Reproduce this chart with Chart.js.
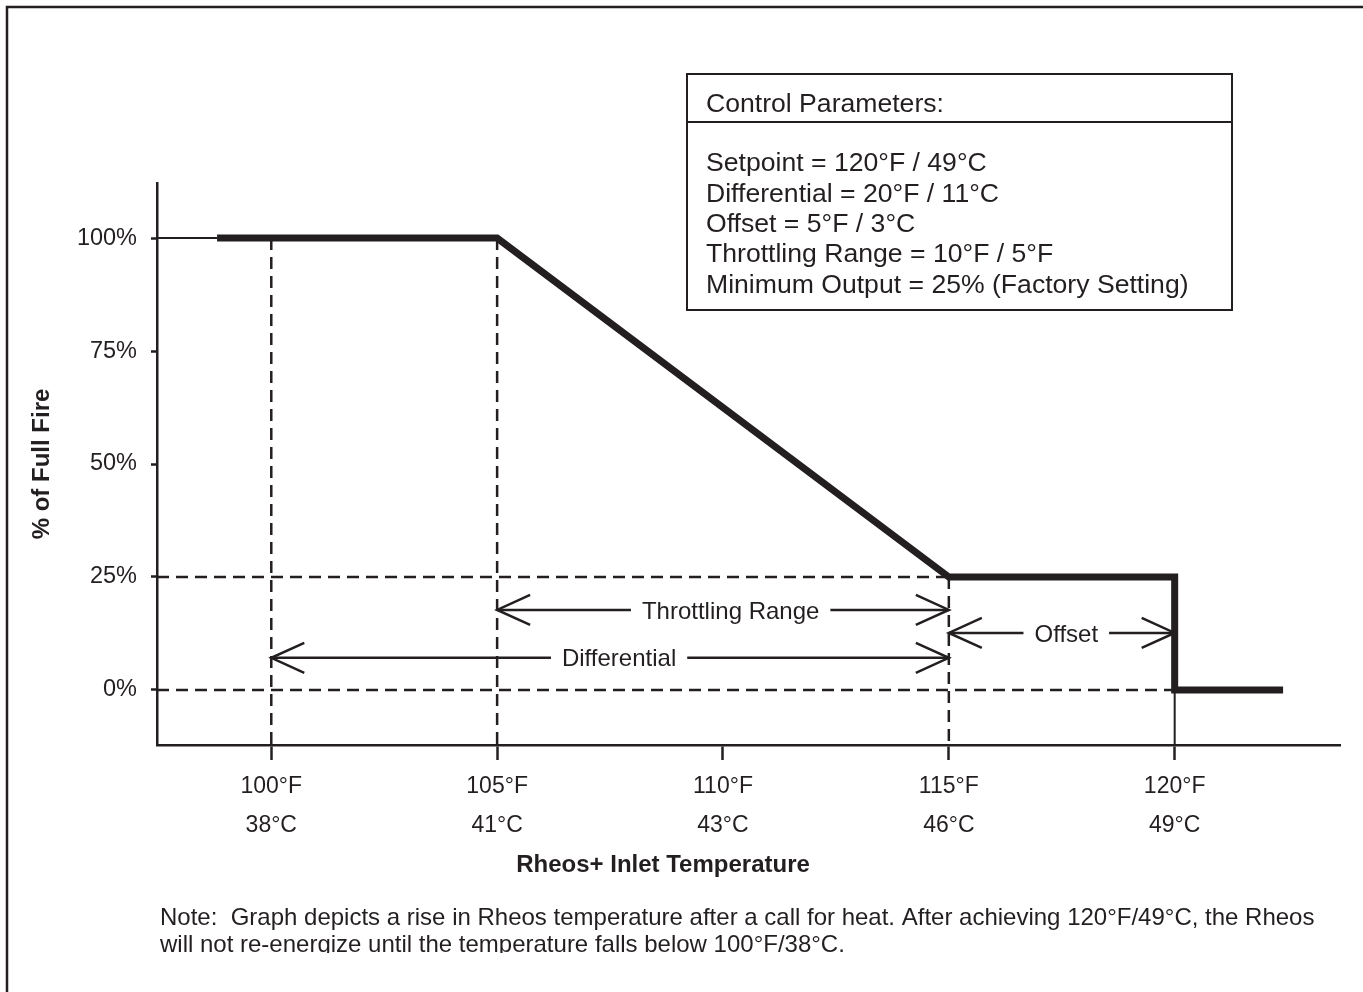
<!DOCTYPE html>
<html>
<head>
<meta charset="utf-8">
<script src="https://cdn.jsdelivr.net/npm/chart.js@4.4.1/dist/chart.umd.min.js"></script>
<style>
  html, body { margin: 0; padding: 0; background: #fff; }
  #wrap { width: 1363px; height: 992px; position: relative; }
</style>
</head>
<body>
<div id="wrap"><canvas id="fireChart" width="1363" height="992"></canvas></div>
<script>
// curve: % of full fire against inlet temperature (°F)
const tempF = [98.8, 105, 115, 120, 120, 122.4];
const firePct = [100, 100, 25, 25, 0, 0];

// axis ticks
const tickF = [100, 105, 110, 115, 120];
const tickFLabels = ['100°F', '105°F', '110°F', '115°F', '120°F'];
const tickCLabels = ['38°C', '41°C', '43°C', '46°C', '49°C'];
const tickPct = [0, 25, 50, 75, 100];

// axis range
const xMin = 97.47, xMax = 123.66;
const yMin = -12.2, yMax = 112.2;

// dashed guides (vertical: x and top value, horizontal: y and right end)
const guideX = [100, 105, 115];
const guideXTop = [100, 100, 25];
const guideY = [25, 0];
const guideYEnd = [115, 120];

// dimension arrows
const spanLabels = ['Throttling Range', 'Differential', 'Offset'];
const spanFrom = [105, 100, 115];
const spanTo = [115, 115, 120];
const spanLevel = [17.7, 7.1, 12.6];
const spanTextAt = [110.17, 107.7, 117.6];  // where the label sits along the arrow

const paramTitle = 'Control Parameters:';
const paramLines = [
    'Setpoint = 120°F / 49°C',
    'Differential = 20°F / 11°C',
    'Offset = 5°F / 3°C',
    'Throttling Range = 10°F / 5°F',
    'Minimum Output = 25% (Factory Setting)'
];
const noteLines = [
    'Note:  Graph depicts a rise in Rheos temperature after a call for heat. After achieving 120°F/49°C, the Rheos',
    'will not re-energize until the temperature falls below 100°F/38°C.'
];

const INK = '#231f20';
const FONT = '"Liberation Sans", Arial, sans-serif';
const DASH = [12, 7];

const datasets = [];
datasets.push({
    data: tempF.map((x, i) => ({ x: x, y: firePct[i] })),
    borderColor: INK, borderWidth: 7, pointRadius: 0,
    borderJoinStyle: 'miter', borderCapStyle: 'butt', order: 0
});
guideX.forEach((x, i) => {
    datasets.push({
        data: [{ x: x, y: guideXTop[i] }, { x: x, y: yMin }],
        borderColor: INK, borderWidth: 2.5, borderDash: DASH, pointRadius: 0, order: 2
    });
});
guideY.forEach((y, i) => {
    datasets.push({
        data: [{ x: xMin, y: y }, { x: guideYEnd[i], y: y }],
        borderColor: INK, borderWidth: 2.5, borderDash: DASH, pointRadius: 0, order: 2
    });
});
// thin solid leaders: 100% from the axis to the curve, 120°F from 0% to the axis
datasets.push({
    data: [{ x: xMin, y: firePct[0] }, { x: tempF[0], y: firePct[0] }],
    borderColor: INK, borderWidth: 2, pointRadius: 0, order: 2
});
datasets.push({
    data: [{ x: tempF[3], y: 0 }, { x: tempF[3], y: yMin }],
    borderColor: INK, borderWidth: 2, pointRadius: 0, order: 2
});

function arrowHead(ctx, x, y, dir) {
    ctx.beginPath();
    ctx.moveTo(x - dir * 33, y - 15);
    ctx.lineTo(x, y);
    ctx.lineTo(x - dir * 33, y + 15);
    ctx.stroke();
}

const extras = {
    id: 'extras',
    afterDraw(chart) {
        const ctx = chart.ctx;
        const xs = chart.scales.x, ys = chart.scales.y;
        ctx.save();
        ctx.strokeStyle = INK;
        ctx.fillStyle = INK;

        // frame
        ctx.lineWidth = 2.5;
        ctx.beginPath();
        ctx.moveTo(7, 992); ctx.lineTo(7, 7); ctx.lineTo(1363, 7);
        ctx.stroke();

        // dimension arrows
        ctx.lineWidth = 2.5;
        ctx.font = '24px ' + FONT;
        ctx.textAlign = 'center';
        ctx.textBaseline = 'middle';
        spanLabels.forEach((label, i) => {
            const x1 = xs.getPixelForValue(spanFrom[i]);
            const x2 = xs.getPixelForValue(spanTo[i]);
            const y = ys.getPixelForValue(spanLevel[i]);
            const w = ctx.measureText(label).width;
            const cx = xs.getPixelForValue(spanTextAt[i]);
            ctx.beginPath();
            ctx.moveTo(x1, y); ctx.lineTo(cx - w / 2 - 11, y);
            ctx.moveTo(cx + w / 2 + 11, y); ctx.lineTo(x2, y);
            ctx.stroke();
            arrowHead(ctx, x1, y, -1);
            arrowHead(ctx, x2, y, 1);
            ctx.fillText(label, cx, y + 2);
        });

        // axis titles
        ctx.font = 'bold 24px ' + FONT;
        ctx.fillText('Rheos+ Inlet Temperature', 663, 865);
        ctx.save();
        ctx.translate(42, 464);
        ctx.rotate(-Math.PI / 2);
        ctx.fillText('% of Full Fire', 0, 0);
        ctx.restore();

        // parameter box
        ctx.lineWidth = 2;
        ctx.strokeRect(687, 74, 545, 236);
        ctx.beginPath();
        ctx.moveTo(687, 122); ctx.lineTo(1232, 122);
        ctx.stroke();
        ctx.textAlign = 'left';
        ctx.font = '26.6px ' + FONT;
        ctx.fillText(paramTitle, 706, 105);
        paramLines.forEach((t, i) => ctx.fillText(t, 706, 164 + i * 30.3));

        // note (bottom is cut off in the original)
        ctx.save();
        ctx.beginPath();
        ctx.rect(0, 0, 1363, 953);
        ctx.clip();
        ctx.font = '24px ' + FONT;
        noteLines.forEach((t, i) => ctx.fillText(t, 160, 918 + i * 27));
        ctx.restore();

        ctx.restore();
    }
};

new Chart(document.getElementById('fireChart'), {
    type: 'line',
    data: { datasets: datasets },
    plugins: [extras],
    options: {
        responsive: false,
        animation: false,
        events: [],
        layout: { autoPadding: false, padding: { top: 183, right: 23, left: 0, bottom: 0 } },
        plugins: { legend: { display: false }, tooltip: { enabled: false } },
        scales: {
            x: {
                type: 'linear', min: xMin, max: xMax,
                afterFit: s => { s.height = 247; },
                afterBuildTicks: s => { s.ticks = tickF.map(v => ({ value: v })); },
                border: { display: true, color: INK, width: 2.5 },
                grid: { drawOnChartArea: false, drawTicks: true, tickLength: 15, tickColor: INK, tickWidth: 2.5 },
                ticks: {
                    color: INK, padding: 7, maxRotation: 0, autoSkip: false,
                    font: { family: FONT, size: 23, lineHeight: 1.7 },
                    callback: (v, i) => [tickFLabels[i], tickCLabels[i]]
                }
            },
            y: {
                type: 'linear', min: yMin, max: yMax,
                afterFit: s => { s.width = 157; },
                afterBuildTicks: s => { s.ticks = tickPct.map(v => ({ value: v })); },
                border: { display: true, color: INK, width: 2.5 },
                grid: { drawOnChartArea: false, drawTicks: true, tickLength: 6, tickColor: INK, tickWidth: 2.5 },
                ticks: {
                    color: INK, padding: 14,
                    font: { family: FONT, size: 23.5 },
                    callback: v => v + '%'
                }
            }
        }
    }
});
</script>
</body>
</html>
